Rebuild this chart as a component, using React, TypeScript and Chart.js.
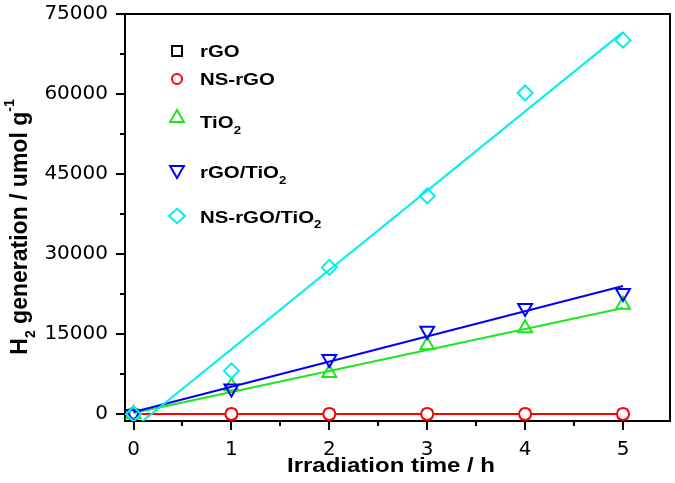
import React, { useEffect, useRef } from 'react';
import { Chart, registerables } from 'chart.js';

Chart.register(...registerables);

// ---- data ----
const times = [0, 1, 2, 3, 4, 5];
const rGO = [0, 0, 0, 0, 0, 0];
const nsRGO = [0, 0, 0, 0, 0, 0];
const tio2 = [0, 5200, 7700, 12900, 16100, 20500];
const rgoTio2 = [0, 4800, 10300, 15600, 19900, 22700];
const nsRgoTio2 = [0, 8100, 27500, 40900, 60200, 70100];

const fitTimes = [0, 5];
const fitRGO = [0, 0];
const fitNsRGO = [0, 0];
const fitTio2 = [200, 19900];
const fitRgoTio2 = [400, 24000];
const fitNsRgoTio2 = [-2700, 71600];

const xTicks = [0, 1, 2, 3, 4, 5];
const xMinorTicks = [0.5, 1.5, 2.5, 3.5, 4.5];
const yTicks = [0, 15000, 30000, 45000, 60000, 75000];
const yMinorTicks = [7500, 22500, 37500, 52500, 67500];

const legendNames = ['rGO', 'NS-rGO', 'TiO', 'rGO/TiO', 'NS-rGO/TiO'];
const legendSubs = ['', '', '2', '2', '2'];
const xTitle = 'Irradiation time / h';

const BLACK = '#000000';
const RED = '#ff0000';
const GREEN = '#1ee61e';
const BLUE = '#0000ff';
const CYAN = '#00eef0';

const FONT = '"Liberation Sans", Arial, sans-serif';
const SX = 1.2;

type Part = { t: string; k: 'n' | 'sub' | 'sup' };

function richWidth(ctx: CanvasRenderingContext2D, parts: Part[], size: number) {
  let w = 0;
  for (const p of parts) {
    const s = p.k === 'n' ? size : Math.round(size * 0.62);
    ctx.font = `bold ${s}px ${FONT}`;
    w += ctx.measureText(p.t).width;
  }
  return w;
}

function drawRich(ctx: CanvasRenderingContext2D, parts: Part[], size: number, startX: number) {
  let x = startX;
  ctx.textBaseline = 'alphabetic';
  ctx.textAlign = 'left';
  for (const p of parts) {
    const s = p.k === 'n' ? size : Math.round(size * 0.62);
    ctx.font = `bold ${s}px ${FONT}`;
    const dy = p.k === 'sub' ? size * 0.32 : p.k === 'sup' ? -size * 0.52 : 0;
    ctx.fillText(p.t, x, dy);
    x += ctx.measureText(p.t).width;
  }
}

function marker(ctx: CanvasRenderingContext2D, style: string, x: number, y: number, r: number, color: string) {
  ctx.save();
  ctx.strokeStyle = color;
  ctx.lineWidth = 2;
  ctx.beginPath();
  if (style === 'rect') {
    ctx.rect(x - r, y - r, 2 * r, 2 * r);
  } else if (style === 'circle') {
    ctx.arc(x, y, r, 0, Math.PI * 2);
  } else if (style === 'up' || style === 'down') {
    const s = style === 'up' ? 1 : -1;
    ctx.moveTo(x, y - s * r);
    ctx.lineTo(x + r * Math.sin(Math.PI * 2 / 3), y + s * r / 2);
    ctx.lineTo(x - r * Math.sin(Math.PI * 2 / 3), y + s * r / 2);
    ctx.closePath();
  } else if (style === 'diamond') {
    ctx.moveTo(x, y - r * 0.9);
    ctx.lineTo(x + r, y);
    ctx.lineTo(x, y + r * 0.9);
    ctx.lineTo(x - r, y);
    ctx.closePath();
  }
  ctx.stroke();
  ctx.restore();
}

const decorPlugin = {
  id: 'decor',
  afterDraw(chart: any) {
    const ctx: CanvasRenderingContext2D = chart.ctx;
    const { left, right, top, bottom } = chart.chartArea;
    const xs = chart.scales.x;
    const ys = chart.scales.y;
    ctx.save();
    // frame
    ctx.strokeStyle = '#000';
    ctx.lineWidth = 2;
    ctx.beginPath();
    ctx.moveTo(left, top);
    ctx.lineTo(right, top);
    ctx.lineTo(right, bottom);
    ctx.stroke();
    // ticks
    ctx.beginPath();
    for (const v of xTicks) {
      const px = Math.round(xs.getPixelForValue(v));
      ctx.moveTo(px, bottom);
      ctx.lineTo(px, bottom + 9);
    }
    for (const v of xMinorTicks) {
      const px = Math.round(xs.getPixelForValue(v));
      ctx.moveTo(px, bottom);
      ctx.lineTo(px, bottom + 5);
    }
    for (const v of yTicks) {
      const py = Math.round(ys.getPixelForValue(v));
      ctx.moveTo(left, py);
      ctx.lineTo(left - 9, py);
    }
    for (const v of yMinorTicks) {
      const py = Math.round(ys.getPixelForValue(v));
      ctx.moveTo(left, py);
      ctx.lineTo(left - 5, py);
    }
    ctx.stroke();

    ctx.fillStyle = '#000';
    // x title
    {
      const parts: Part[] = [{ t: xTitle, k: 'n' }];
      const size = 20;
      const w = richWidth(ctx, parts, size);
      ctx.save();
      ctx.translate(391, 472);
      ctx.scale(SX, 1);
      drawRich(ctx, parts, size, -w / 2);
      ctx.restore();
    }
    // y title
    {
      const parts: Part[] = [
        { t: 'H', k: 'n' },
        { t: '2', k: 'sub' },
        { t: ' generation / umol g', k: 'n' },
        { t: '-1', k: 'sup' },
      ];
      const size = 23;
      const w = richWidth(ctx, parts, size);
      ctx.save();
      ctx.translate(27, 227);
      ctx.rotate(-Math.PI / 2);
      ctx.scale(1, 1.05);
      drawRich(ctx, parts, size, -w / 2);
      ctx.restore();
    }
    // legend
    const styles = ['rect', 'circle', 'up', 'down', 'diamond'];
    const colors = [BLACK, RED, GREEN, BLUE, CYAN];
    const sizes = [5, 5, 8, 8, 8];
    const my = [51, 79, 118, 170, 216];
    const by = [57.3, 85, 128.3, 178.3, 222.7];
    for (let i = 0; i < legendNames.length; i++) {
      marker(ctx, styles[i], 177, my[i], sizes[i], colors[i]);
      const parts: Part[] = [{ t: legendNames[i], k: 'n' }];
      if (legendSubs[i]) parts.push({ t: legendSubs[i], k: 'sub' });
      ctx.save();
      ctx.fillStyle = '#000';
      ctx.translate(200, by[i]);
      ctx.scale(SX, 1);
      drawRich(ctx, parts, 17, 0);
      ctx.restore();
    }
    ctx.restore();
  },
};

function pts(xv: number[], yv: number[]) {
  return xv.map((x, i) => ({ x, y: yv[i] }));
}

export default function App() {
  const ref = useRef<HTMLCanvasElement | null>(null);
  useEffect(() => {
    if (!ref.current) return;
    const markerDs = (label: string, data: number[], color: string, style: string, r: number, rot = 0, fill = 'transparent') => ({
      label,
      data: pts(times, data),
      showLine: false,
      pointStyle: style,
      pointRotation: rot,
      pointRadius: r,
      pointBorderWidth: 2,
      borderColor: color,
      pointBorderColor: color,
      pointBackgroundColor: fill,
      backgroundColor: fill,
    });
    const fitDs = (label: string, data: number[], color: string) => ({
      label,
      data: pts(fitTimes, data),
      showLine: true,
      pointRadius: 0,
      borderColor: color,
      borderWidth: 2,
      fill: false,
    });
    const chart = new Chart(ref.current, {
      type: 'scatter',
      data: {
        datasets: [
          markerDs('NS-rGO/TiO2', nsRgoTio2, CYAN, 'rectRot', 7.5),
          fitDs('NS-rGO/TiO2 fit', fitNsRgoTio2, CYAN),
          markerDs('rGO/TiO2', rgoTio2, BLUE, 'triangle', 8, 180),
          fitDs('rGO/TiO2 fit', fitRgoTio2, BLUE),
          markerDs('TiO2', tio2, GREEN, 'triangle', 8),
          fitDs('TiO2 fit', fitTio2, GREEN),
          markerDs('NS-rGO', nsRGO, RED, 'circle', 6, 0, '#ffffff'),
          fitDs('NS-rGO fit', fitNsRGO, RED),
          markerDs('rGO', rGO, BLACK, 'rect', 6),
          fitDs('rGO fit', fitRGO, BLACK),
        ] as any,
      },
      options: {
        animation: false,
        responsive: false,
        maintainAspectRatio: false,
        layout: { autoPadding: false, padding: { top: 14, right: 5, left: 0, bottom: 0 } },
        plugins: { legend: { display: false }, tooltip: { enabled: false } },
        scales: {
          x: {
            type: 'linear',
            min: -0.087,
            max: 5.48,
            afterFit: (s: any) => { s.height = 62; s.paddingLeft = 0; s.paddingRight = 0; },
            afterBuildTicks: (s: any) => { s.ticks = xTicks.map((v) => ({ value: v })); },
            grid: { display: true, drawOnChartArea: false, drawTicks: false },
            border: { display: true, color: '#000', width: 2 },
            ticks: {
              color: '#000',
              padding: 17,
              maxRotation: 0,
              font: { family: '"DejaVu Sans", sans-serif', size: 20 },
              callback: (v: any) => String(v),
            },
          },
          y: {
            type: 'linear',
            min: -1300,
            max: 75000,
            afterFit: (s: any) => { s.width = 125; s.paddingTop = 0; s.paddingBottom = 0; },
            afterBuildTicks: (s: any) => { s.ticks = yTicks.map((v) => ({ value: v })); },
            grid: { display: true, drawOnChartArea: false, drawTicks: false },
            border: { display: true, color: '#000', width: 2 },
            ticks: {
              color: '#000',
              padding: 17,
              font: { family: '"DejaVu Sans", sans-serif', size: 20 },
              callback: (v: any) => String(v),
            },
          },
        },
      } as any,
      plugins: [decorPlugin],
    });
    return () => chart.destroy();
  }, []);
  return (
    <div style={{ position: 'absolute', left: 0, top: 0, width: 675, height: 483, background: '#fff' }}>
      <canvas ref={ref} width={675} height={483} style={{ display: 'block' }} />
    </div>
  );
}
